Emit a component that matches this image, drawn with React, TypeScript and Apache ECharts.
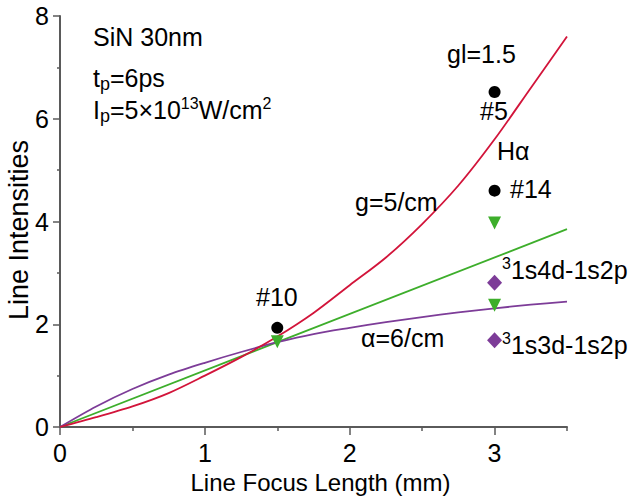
import React, { useEffect, useRef } from "react";
import * as echarts from "echarts";

// Line focus length (mm) sample positions
const lengths = [0, 0.25, 0.5, 0.75, 1.0, 1.25, 1.5, 1.75, 2.0, 2.25, 2.5, 2.75, 3.0, 3.25, 3.5];
// gain curve g = 5/cm
const gainCurve = [0, 0.19, 0.4, 0.66, 1.0, 1.36, 1.76, 2.22, 2.76, 3.3, 3.95, 4.7, 5.6, 6.6, 7.6];
// absorption curve alpha = 6/cm
const absorptionCurve = [0, 0.4, 0.74, 1.02, 1.25, 1.46, 1.65, 1.81, 1.93, 2.04, 2.14, 2.23, 2.31, 2.38, 2.44];
// linear (optically thin) line
const linearX = [0, 3.5];
const linearY = [0, 3.85];

// measured points
const halphaX = [1.5, 3.0, 3.0];
const halphaY = [1.93, 6.52, 4.6];
const triangleX = [1.5, 3.0, 3.0];
const triangleY = [1.66, 3.97, 2.37];
const diamondX = [3.0, 3.0];
const diamondY = [2.81, 1.69];

const xMajorTicks = [0, 1, 2, 3];
const xMinorTicks = [0.5, 1.5, 2.5, 3.5];
const yMinorTicks = [1, 3, 5, 7];

const RED = "#D2143A";
const GREEN = "#3DAE2B";
const PURPLE = "#7D3C98";
const AXIS = "#5a5a5a";
const FONT = "'Liberation Sans', Arial, Helvetica, sans-serif";
const FS = 25;

const zip = (xs: number[], ys: number[]) => xs.map((x, i) => [x, ys[i]]);

const rich = {
  sub: { fontSize: 18, fontFamily: FONT, fill: "#000", verticalAlign: "bottom", lineHeight: 12 },
  sup: { fontSize: 16, fontFamily: FONT, fill: "#000", verticalAlign: "top", lineHeight: 18 },
};

const txt = (x: number, y: number, text: string, align = "left") => ({
  type: "text",
  x,
  y,
  z: 100,
  style: {
    text,
    fontSize: FS,
    fontFamily: FONT,
    fill: "#000",
    align,
    verticalAlign: "middle",
    lineHeight: 30,
    rich,
  },
});

export default function App() {
  const ref = useRef<HTMLDivElement>(null);
  useEffect(() => {
    if (!ref.current) return;
    const chart = echarts.init(ref.current, null, { renderer: "svg" });
    const axisText = { fontSize: FS, fontFamily: FONT, color: "#000" };
    chart.setOption({
      animation: false,
      backgroundColor: "#fff",
      grid: { left: 60, right: 67, top: 16, bottom: 70, containLabel: false, outerBoundsMode: "none" },
      xAxis: [
        {
          type: "value",
          position: "bottom",
          min: 0,
          max: 3.5,
          name: "Line Focus Length (mm)",
          nameLocation: "middle",
          nameGap: 43,
          nameTextStyle: { ...axisText, fontSize: 24, padding: [0, 0, 0, 14] },
          axisLine: { lineStyle: { color: AXIS, width: 2 } },
          axisTick: { show: true, length: 8, customValues: xMajorTicks, lineStyle: { color: AXIS, width: 1.5 } },
          axisLabel: { ...axisText, margin: 13, customValues: xMajorTicks },
          splitLine: { show: false },
        },
        {
          type: "value",
          position: "bottom",
          min: 0,
          max: 3.5,
          axisLine: { show: false },
          axisTick: { show: true, length: 4, customValues: xMinorTicks, lineStyle: { color: AXIS, width: 1.5 } },
          axisLabel: { show: false },
          splitLine: { show: false },
        },
      ],
      yAxis: [
        {
          type: "value",
          position: "left",
          min: 0,
          max: 8,
          interval: 2,
          axisLine: { show: true, lineStyle: { color: AXIS, width: 2 } },
          axisTick: { show: true, length: 7, lineStyle: { color: AXIS, width: 1.5 } },
          axisLabel: { ...axisText, margin: 11 },
          splitLine: { show: false },
        },
        {
          type: "value",
          position: "left",
          min: 0,
          max: 8,
          axisLine: { show: false },
          axisTick: { show: true, length: 3, customValues: yMinorTicks, lineStyle: { color: AXIS, width: 1.5 } },
          axisLabel: { show: false },
          splitLine: { show: false },
        },
      ],
      series: [
        {
          type: "line",
          name: "g=5/cm",
          data: zip(lengths, gainCurve),
          smooth: 0.3,
          showSymbol: false,
          lineStyle: { color: RED, width: 1.8 },
          z: 3,
        },
        {
          type: "line",
          name: "linear",
          data: zip(linearX, linearY),
          showSymbol: false,
          lineStyle: { color: GREEN, width: 1.8 },
          z: 2,
        },
        {
          type: "line",
          name: "α=6/cm",
          data: zip(lengths, absorptionCurve),
          smooth: 0.3,
          showSymbol: false,
          lineStyle: { color: PURPLE, width: 1.8 },
          z: 2,
        },
        {
          type: "scatter",
          name: "Hα",
          data: zip(halphaX, halphaY),
          symbol: "circle",
          symbolSize: 12,
          itemStyle: { color: "#000", opacity: 1 },
          z: 5,
        },
        {
          type: "scatter",
          name: "1s4d/1s3d (green)",
          data: zip(triangleX, triangleY),
          symbol: "triangle",
          symbolRotate: 180,
          symbolSize: 13,
          itemStyle: { color: GREEN, opacity: 1 },
          z: 6,
        },
        {
          type: "scatter",
          name: "1s4d/1s3d (purple)",
          data: zip(diamondX, diamondY),
          symbol: "diamond",
          symbolSize: [15, 16],
          itemStyle: { color: PURPLE, opacity: 1 },
          z: 6,
        },
      ],
      graphic: [
        {
          type: "text",
          x: 19,
          y: 230,
          rotation: Math.PI / 2,
          z: 100,
          style: {
            text: "Line Intensities",
            fontSize: 27,
            fontFamily: FONT,
            fill: "#000",
            align: "center",
            verticalAlign: "middle",
          },
        },
        txt(93, 37, "SiN 30nm"),
        txt(93, 78, "t{sub|p}=6ps"),
        txt(93, 110, "I{sub|p}=5×10{sup|13}W/cm{sup|2}"),
        txt(447, 54, "gl=1.5"),
        txt(494, 111, "#5", "center"),
        txt(497, 151, "Hα"),
        txt(510, 189, "#14"),
        txt(355, 202, "g=5/cm"),
        txt(502, 270, "{sup|3}1s4d-1s2p"),
        txt(361, 338, "α=6/cm"),
        txt(502, 345, "{sup|3}1s3d-1s2p"),
        txt(256, 297, "#10"),
      ],
    });
    return () => chart.dispose();
  }, []);
  return <div ref={ref} style={{ width: 634, height: 497, position: "absolute", left: 0, top: 0 }} />;
}
